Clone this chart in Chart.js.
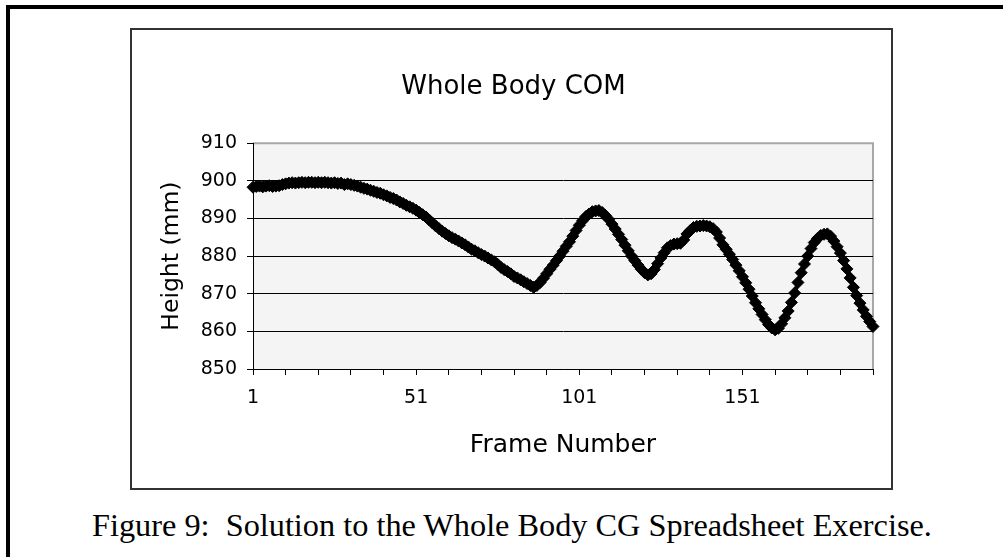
<!DOCTYPE html>
<html>
<head>
<meta charset="utf-8">
<script src="https://cdn.jsdelivr.net/npm/chart.js@4.4.0/dist/chart.umd.min.js"></script>
<style>
  html, body { margin: 0; padding: 0; background: #fff; width: 1003px; height: 557px; overflow: hidden; }
  #frame { position: absolute; left: 6px; top: 5px; width: 1010px; height: 600px; border-left: 4px solid #000; border-top: 4px solid #000; }
  #box { position: absolute; left: 130px; top: 28px; width: 763px; height: 462px; border: 2px solid #333; box-sizing: border-box; background: #fff; }
  #chart { position: absolute; left: 0; top: 0; }
  #caption { position: absolute; left: 92px; top: 509px; font-family: "Liberation Serif", "Times New Roman", serif; font-size: 32.3px; line-height: 32px; white-space: pre; color: #000; }
</style>
</head>
<body>
<div id="frame"></div>
<div id="box"><canvas id="chart" width="759" height="458"></canvas></div>
<div id="caption">Figure 9:  Solution to the Whole Body CG Spreadsheet Exercise.</div>
<script>
// Frame numbers (categories) 1..191
const frames = Array.from({ length: 191 }, (_, i) => i + 1);

// Whole body COM height (mm)
const heights = [
  898.3, 898.5, 898.6, 898.4, 898.6, 898.7, 898.5, 898.6, 898.7, 899.0,
  899.2, 899.4, 899.5, 899.4, 899.5, 899.6, 899.5, 899.6, 899.6, 899.5,
  899.6, 899.5, 899.6, 899.5, 899.4, 899.5, 899.3, 899.4, 899.0, 899.2,
  899.0, 898.8, 898.6, 898.3, 898.0, 897.8, 897.5, 897.2, 896.9, 896.7,
  896.3, 896.0, 895.6, 895.3, 894.9, 894.4, 894.0, 893.5, 893.1, 892.7,
  892.2, 891.6, 891.0, 890.4, 889.6, 888.8, 888.0, 887.3, 886.6, 886.0,
  885.4, 884.9, 884.5, 884.0, 883.5, 883.0, 882.4, 881.8, 881.4, 880.9,
  880.4, 880.0, 879.5, 879.0, 878.5, 877.8, 877.0, 876.4, 875.9, 875.3,
  874.6, 874.2, 873.7, 873.2, 872.7, 872.2, 871.7, 872.2, 873.0, 874.1,
  875.3, 876.5, 877.6, 878.8, 880.0, 881.3, 882.6, 883.8, 885.3, 886.8,
  888.2, 889.4, 890.5, 891.2, 891.8, 892.0, 892.1, 891.6, 890.8, 889.8,
  888.5, 887.2, 885.8, 884.4, 882.9, 881.4, 880.0, 878.8, 877.6, 876.5,
  875.6, 875.0, 875.3, 876.4, 878.0, 879.5, 880.9, 882.2, 882.8, 883.2,
  883.3, 883.4, 884.3, 885.9, 886.8, 887.6, 887.9, 888.0, 888.1, 888.0,
  887.8, 887.3, 886.4, 884.8, 883.0, 881.8, 880.5, 879.1, 877.6, 876.1,
  874.5, 872.9, 871.2, 869.4, 867.6, 866.0, 864.5, 863.1, 861.8, 860.9,
  860.4, 860.8, 862.0, 863.6, 865.4, 867.7, 870.2, 873.0, 875.6, 877.9,
  880.0, 882.0, 883.6, 884.7, 885.5, 885.8, 885.9, 885.3, 884.0, 882.5,
  880.8, 878.8, 876.6, 874.2, 871.7, 869.5, 867.5, 865.7, 864.0, 862.6,
  861.3
];

// Tick labels shown on the axes
const xTickLabels = [1, 51, 101, 151];
const yMin = 850, yMax = 910, yStep = 10;

const font = "DejaVu Sans";

// Gray plot area with a light border on top and right (Excel style)
const plotBackground = {
  id: "plotBackground",
  beforeDraw(chart) {
    const { ctx, chartArea: a } = chart;
    ctx.save();
    ctx.fillStyle = "#f4f4f4";
    ctx.fillRect(a.left, a.top, a.right - a.left, a.bottom - a.top);
    ctx.strokeStyle = "#a8a8a8";
    ctx.lineWidth = 2;
    ctx.beginPath();
    ctx.moveTo(a.left, a.top);
    ctx.lineTo(a.right, a.top);
    ctx.lineTo(a.right, a.bottom);
    ctx.stroke();
    ctx.restore();
  }
};

new Chart(document.getElementById("chart").getContext("2d"), {
  type: "line",
  data: {
    labels: frames,
    datasets: [{
      data: heights,
      borderColor: "#000",
      backgroundColor: "#000",
      borderWidth: 4,
      pointStyle: "rectRot",
      pointRadius: 6,
      pointBorderWidth: 1,
      pointBackgroundColor: "#000",
      pointBorderColor: "#000",
      tension: 0,
      clip: false
    }]
  },
  options: {
    responsive: false,
    animation: false,
    devicePixelRatio: 1,
    layout: { padding: { left: 22, right: 18, top: 0, bottom: 0 } },
    plugins: {
      legend: { display: false },
      tooltip: { enabled: false },
      title: {
        display: true,
        text: "Whole Body COM",
        color: "#000",
        font: { family: font, size: 26, weight: "normal" },
        padding: { top: 42, bottom: 40 }
      }
    },
    scales: {
      x: {
        type: "category",
        ticks: {
          autoSkip: false,
          maxRotation: 0,
          minRotation: 0,
          color: "#000",
          padding: 12,
          font: { family: font, size: 19 },
          callback: function (value, index) {
            return xTickLabels.includes(frames[index]) ? String(frames[index]) : "";
          }
        },
        grid: {
          drawOnChartArea: false,
          drawTicks: true,
          tickLength: 6,
          tickColor: (ctx) => (ctx.index % 10 === 0 ? "#000" : "transparent")
        },
        border: { color: "#000", width: 1 },
        title: {
          display: true,
          text: "Frame Number",
          color: "#000",
          font: { family: font, size: 25 },
          padding: { top: 0, bottom: 28 }
        },
        afterFit: (scale) => { scale.height = 119; }
      },
      y: {
        min: yMin,
        max: yMax,
        ticks: {
          stepSize: yStep,
          color: "#000",
          padding: 10,
          font: { family: font, size: 19 }
        },
        grid: {
          color: (ctx) => (ctx.tick && ctx.tick.value === yMax ? "transparent" : "#000"),
          lineWidth: 1,
          tickLength: 6,
          tickColor: "#000"
        },
        border: { color: "#000", width: 1 },
        title: {
          display: true,
          text: "Height (mm)",
          color: "#000",
          font: { family: font, size: 23.5 },
          padding: { top: 4, bottom: 0 }
        },
        afterFit: (scale) => { scale.width = 99; }
      }
    }
  },
  plugins: [plotBackground]
});
</script>
</body>
</html>
